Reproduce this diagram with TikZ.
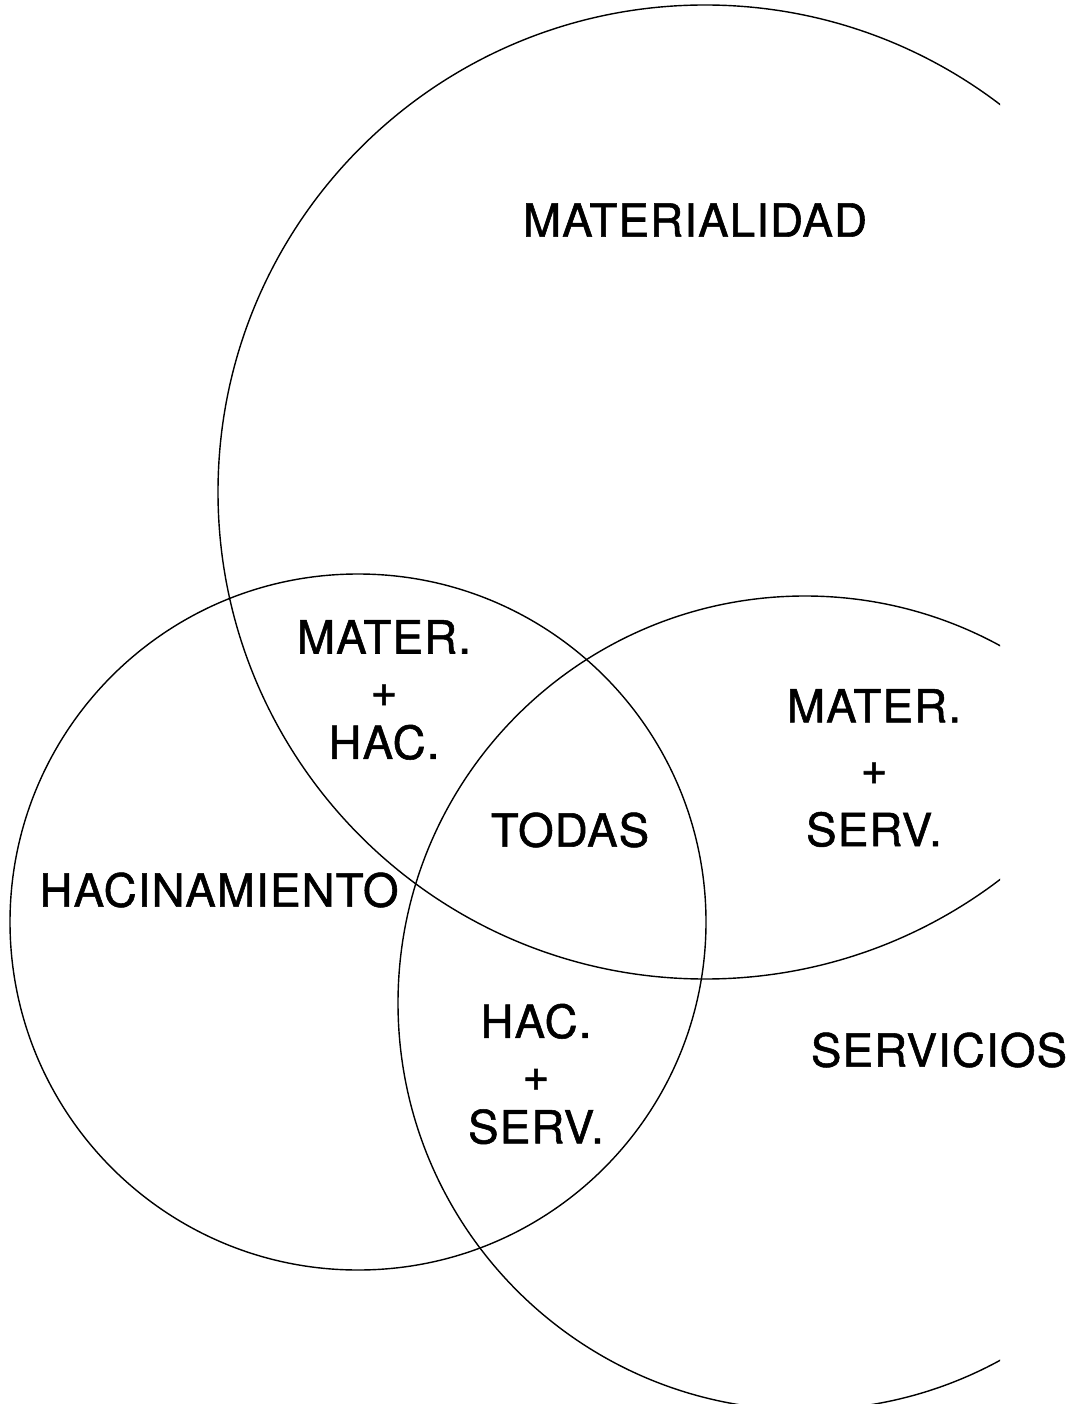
\documentclass[tikz,border=0pt]{standalone}
\usepackage{fontspec}
\setmainfont{TeX Gyre Heros}[FakeBold=1.2, LetterSpace=2.5]
\tikzset{
  conjunto/.style={line width=0.4pt},
  rotulo/.style={font=\fontsize{13}{15}\selectfont, align=center, inner sep=0pt}
}
\begin{document}
\begin{tikzpicture}
	\useasboundingbox (0,0) rectangle (10.72,-14.04);

% circulos
	\begin{scope}
		\clip (0,0) rectangle (10.0,-14.04);
		\draw[conjunto] (7.05,-4.92) circle[radius=4.87];
		\draw[conjunto] (3.58,-9.22) circle[radius=3.48];
		\draw[conjunto] (8.05,-10.03) circle[radius=4.07];
	\end{scope}

% rotulos
	\node[rotulo] (mat) at (6.95,-2.20) {MATERIALIDAD};
	\node[rotulo] (hac) at (2.19,-8.90) {HACINAMIENTO};
	\node[rotulo] (ser) at (9.39,-10.50) {SERVICIOS};
	\node[rotulo] (todas) at (5.70,-8.30) {TODAS};
	\node[rotulo] (mathac) at (3.84,-6.90) {MATER.\\+\\HAC.};
	\node[rotulo, font=\fontsize{13}{17.6}\selectfont] (matser) at (8.74,-7.68) {MATER.\\+\\SERV.};
	\node[rotulo] (hacser) at (5.36,-10.74) {HAC.\\+\\SERV.};
\end{tikzpicture}
\end{document}
